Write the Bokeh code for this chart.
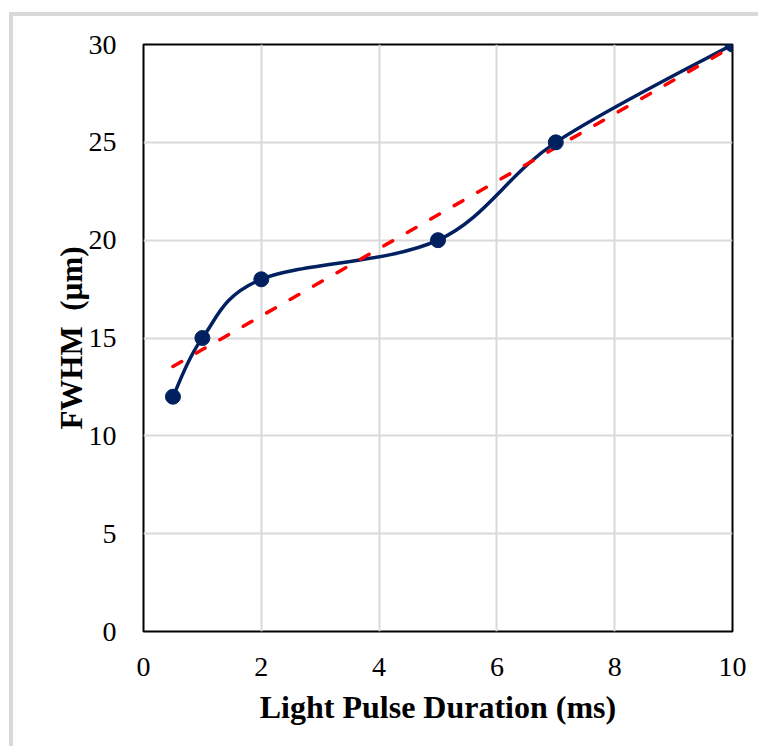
import numpy as np
from bokeh.plotting import figure
from bokeh.models import Range1d, FixedTicker
from bokeh.embed import file_html
from bokeh.resources import INLINE

# ---- data ----
duration_ms = [0.5, 1, 2, 5, 7, 10]
fwhm_um = [12, 15, 18, 20, 25, 30]
x_ticks = [0, 2, 4, 6, 8, 10]
y_ticks = [0, 5, 10, 15, 20, 25, 30]
x_label = "Light Pulse Duration (ms)"
y_label = "FWHM\u00a0\u00a0(µm)"

NAVY = "#002060"
RED = "#FF0000"
GRID = "#d9d9d9"
FONT = "Liberation Serif"

xs = np.array(duration_ms, dtype=float)
ys = np.array(fwhm_um, dtype=float)

# smoothed line (cardinal / Catmull-Rom bezier segments through the data)
n = len(xs)
tx = np.zeros(n)
ty = np.zeros(n)
for i in range(n):
    a = max(i - 1, 0)
    b = min(i + 1, n - 1)
    tx[i] = (xs[b] - xs[a]) / 2.0
    ty[i] = (ys[b] - ys[a]) / 2.0
bez = dict(
    x0=xs[:-1], y0=ys[:-1], x1=xs[1:], y1=ys[1:],
    cx0=xs[:-1] + tx[:-1] / 3.0, cy0=ys[:-1] + ty[:-1] / 3.0,
    cx1=xs[1:] - tx[1:] / 3.0, cy1=ys[1:] - ty[1:] / 3.0,
)

# linear trend line
slope, intercept = np.polyfit(xs, ys, 1)
trend_x = [xs[0], xs[-1]]
trend_y = [slope * xs[0] + intercept, slope * xs[-1] + intercept]

W, H = 749, 734
p = figure(
    width=W, height=H,
    x_range=Range1d(0, 10), y_range=Range1d(0, 30),
    output_backend="svg", toolbar_location=None,
    min_border_left=130, min_border_right=30,
    min_border_top=28, min_border_bottom=119,
    background_fill_color="white", border_fill_color="white",
)
# light gray chart-area border (top and left edges visible)
p.styles = {
    "margin-top": "12px", "margin-left": "9px",
    "border-top": "4px solid #d9d9d9", "border-left": "4px solid #d9d9d9",
}

p.outline_line_color = "black"
p.outline_line_width = 2
p.outline_line_alpha = 1

p.xgrid.grid_line_color = GRID
p.ygrid.grid_line_color = GRID
p.xgrid.grid_line_width = 2
p.ygrid.grid_line_width = 2
p.xaxis.ticker = FixedTicker(ticks=x_ticks)
p.yaxis.ticker = FixedTicker(ticks=y_ticks)

for ax in (p.xaxis[0], p.yaxis[0]):
    ax.axis_line_color = None
    ax.major_tick_line_color = None
    ax.minor_tick_line_color = None
    ax.major_label_text_font = FONT
    ax.major_label_text_font_size = "28px"
    ax.major_label_text_color = "black"
    ax.axis_label_text_font = FONT
    ax.axis_label_text_font_style = "bold"
    ax.axis_label_text_color = "black"

p.xaxis.axis_label = x_label
p.yaxis.axis_label = y_label
p.xaxis.axis_label_text_font_size = "32px"
p.yaxis.axis_label_text_font_size = "31px"
p.xaxis.major_label_standoff = 20
p.yaxis.major_label_standoff = 21
p.xaxis.axis_label_standoff = 10
p.yaxis.axis_label_standoff = -3

p.bezier(source=bez, x0="x0", y0="y0", x1="x1", y1="y1",
         cx0="cx0", cy0="cy0", cx1="cx1", cy1="cy1",
         line_color=NAVY, line_width=3.5)
p.line(trend_x, trend_y, line_color=RED, line_width=3.5,
       line_dash="10 17", line_cap="round")
p.scatter(duration_ms, fwhm_um, size=15, fill_color=NAVY, line_color=NAVY)

open("out.html", "w").write(file_html(p, INLINE))
